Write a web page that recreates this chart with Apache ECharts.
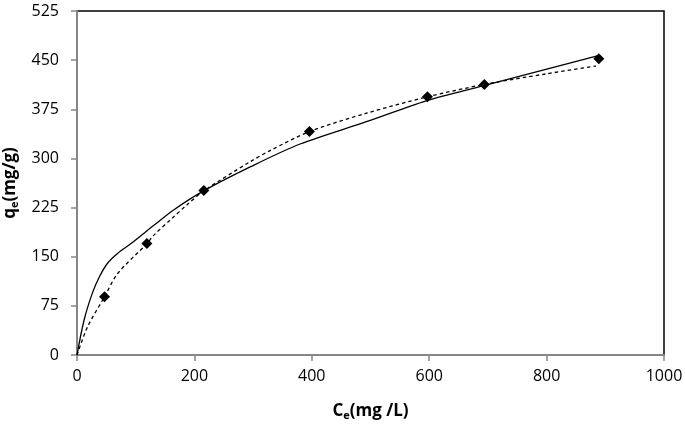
<!DOCTYPE html>
<html>
<head>
<meta charset="utf-8">
<script src="https://cdn.jsdelivr.net/npm/echarts@6/dist/echarts.min.js"></script>
<style>html,body{margin:0;padding:0;background:#fff}#c{width:685px;height:426px}</style>
</head>
<body>
<div id="c"></div>
<script>
// Experimental data (Ce, qe)
const expPoints = [[47, 89], [119, 170], [216, 251], [396, 341], [597, 394], [694, 413], [889, 452]];
// Solid model curve
const solidCurve = [[0, 0], [12, 53], [26, 94], [38, 119], [52, 140], [69, 155], [92, 170], [131, 198], [164, 221], [215, 250], [295, 287], [380, 322], [493, 356], [595, 388], [693, 411], [888, 457]];
// Dashed model curve
const dashedCurve = [[0, 0], [18, 43], [47, 89], [69, 124], [119, 170], [131, 183], [160, 207], [187, 229], [217, 251], [295, 295], [329, 312], [396, 341], [493, 369], [597, 394], [694, 413], [799, 429], [884, 441]];
const xTicks = [0, 200, 400, 600, 800, 1000];
const yTicks = [0, 75, 150, 225, 300, 375, 450, 525];

const chart = echarts.init(document.getElementById('c'));
const font = '"Open Sans", "Noto Sans", sans-serif';
const nameRich = {
  a: { fontSize: 17, fontWeight: 'bold', fontFamily: font, color: '#000' },
  b: { fontSize: 11, fontWeight: 'bold', fontFamily: font, color: '#000', padding: [9, 0, 0, 0] }
};
chart.setOption({
  animation: false,
  backgroundColor: '#fff',
  grid: { left: 77, right: 21, top: 11, bottom: 71, containLabel: false, outerBoundsMode: 'none',
    show: true, borderColor: '#000', borderWidth: 1.5, backgroundColor: 'transparent' },
  xAxis: {
    type: 'value', min: xTicks[0], max: xTicks[xTicks.length - 1], interval: 200,
    axisLine: { show: true, lineStyle: { color: '#868686', width: 2 } },
    axisTick: { show: true, length: 6, lineStyle: { color: '#868686', width: 1.5 } },
    splitLine: { show: false },
    axisLabel: { color: '#000', fontSize: 16, fontFamily: font, margin: 13, formatter: v => String(v) },
    name: '{a|C}{b|e}{a|(mg /L)}', nameLocation: 'middle', nameGap: 46,
    nameTextStyle: { fontSize: 17, fontWeight: 'bold', fontFamily: font, color: '#000', rich: nameRich }
  },
  yAxis: {
    type: 'value', min: yTicks[0], max: yTicks[yTicks.length - 1], interval: 75,
    axisLine: { show: true, lineStyle: { color: '#868686', width: 2 } },
    axisTick: { show: true, length: 6, lineStyle: { color: '#868686', width: 1.5 } },
    splitLine: { show: false },
    axisLabel: { color: '#000', fontSize: 16, fontFamily: font, margin: 18, formatter: v => String(v) },
    name: '{a|q}{b|e}{a|(mg/g)}', nameLocation: 'middle', nameGap: 56,
    nameTextStyle: { fontSize: 17, fontWeight: 'bold', fontFamily: font, color: '#000', rich: nameRich }
  },
  series: [
    { type: 'line', data: solidCurve, smooth: 0.3, showSymbol: false,
      lineStyle: { color: '#000', width: 1.3 }, z: 3 },
    { type: 'line', data: dashedCurve, smooth: 0.3, showSymbol: false,
      lineStyle: { color: '#000', width: 1.3, type: [3.5, 3] }, z: 3 },
    { type: 'scatter', data: expPoints, symbol: 'diamond', symbolSize: 11,
      itemStyle: { color: '#000', opacity: 1 }, z: 4 }
  ]
});
</script>
</body>
</html>
